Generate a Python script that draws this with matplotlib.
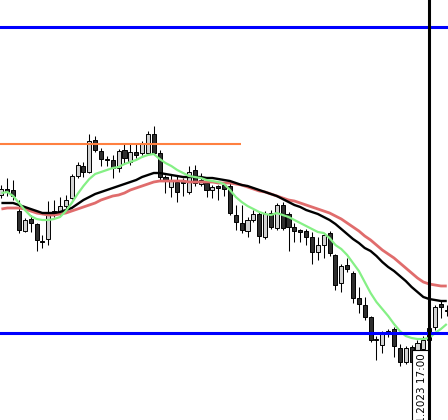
import numpy as np
import matplotlib
matplotlib.use("Agg")
import matplotlib.pyplot as plt
from matplotlib.patches import Rectangle

# ---- price data (hourly candles) ----
opens = [1.0805, 1.0811, 1.0810, 1.0789, 1.0769, 1.0781, 1.0776, 1.0759, 1.0761, 1.0786,
         1.0786, 1.0794, 1.0802, 1.0824, 1.0834, 1.0828, 1.0860, 1.0849, 1.0841, 1.0840,
         1.0832, 1.0850, 1.0838, 1.0848, 1.0847, 1.0847, 1.0866, 1.0847, 1.0823, 1.0813,
         1.0818, 1.0819, 1.0808, 1.0830, 1.0816, 1.0817, 1.0810, 1.0814, 1.0815, 1.0814,
         1.0785, 1.0777, 1.0769, 1.0780, 1.0786, 1.0763, 1.0787, 1.0772, 1.0795, 1.0786,
         1.0773, 1.0770, 1.0769, 1.0763, 1.0748, 1.0755, 1.0767, 1.0745, 1.0717, 1.0735,
         1.0727, 1.0702, 1.0695, 1.0683, 1.0661, 1.0655, 1.0669, 1.0671, 1.0652, 1.0638,
         1.0653, 1.0650, 1.0651, 1.0660, 1.0673, 1.0696, 1.0690]
highs = [1.0815, 1.0822, 1.0820, 1.0800, 1.0782, 1.0785, 1.0777, 1.0765, 1.0799, 1.0800,
         1.0803, 1.0805, 1.0826, 1.0838, 1.0838, 1.0866, 1.0864, 1.0852, 1.0844, 1.0845,
         1.0851, 1.0857, 1.0857, 1.0857, 1.0859, 1.0869, 1.0874, 1.0850, 1.0825, 1.0825,
         1.0825, 1.0822, 1.0834, 1.0835, 1.0827, 1.0820, 1.0815, 1.0815, 1.0818, 1.0818,
         1.0795, 1.0795, 1.0783, 1.0790, 1.0788, 1.0789, 1.0790, 1.0797, 1.0798, 1.0788,
         1.0777, 1.0771, 1.0771, 1.0768, 1.0763, 1.0767, 1.0769, 1.0746, 1.0736, 1.0742,
         1.0729, 1.0713, 1.0703, 1.0684, 1.0664, 1.0669, 1.0671, 1.0673, 1.0656, 1.0654,
         1.0655, 1.0660, 1.0664, 1.0675, 1.0695, 1.0700, 1.0695]
lows = [1.0802, 1.0804, 1.0800, 1.0767, 1.0768, 1.0768, 1.0749, 1.0752, 1.0755, 1.0783,
        1.0784, 1.0789, 1.0801, 1.0822, 1.0823, 1.0827, 1.0848, 1.0834, 1.0834, 1.0822,
        1.0828, 1.0837, 1.0835, 1.0842, 1.0845, 1.0845, 1.0845, 1.0820, 1.0807, 1.0803,
        1.0798, 1.0804, 1.0806, 1.0814, 1.0814, 1.0803, 1.0802, 1.0800, 1.0804, 1.0785,
        1.0770, 1.0767, 1.0763, 1.0778, 1.0757, 1.0761, 1.0771, 1.0770, 1.0770, 1.0749,
        1.0758, 1.0758, 1.0755, 1.0736, 1.0740, 1.0742, 1.0744, 1.0710, 1.0708, 1.0728,
        1.0697, 1.0687, 1.0680, 1.0658, 1.0640, 1.0647, 1.0663, 1.0643, 1.0634, 1.0636,
        1.0634, 1.0649, 1.0649, 1.0659, 1.0670, 1.0682, 1.0684]
closes = [1.0811, 1.0808, 1.0804, 1.0770, 1.0780, 1.0777, 1.0760, 1.0758, 1.0787, 1.0789,
          1.0794, 1.0800, 1.0824, 1.0835, 1.0828, 1.0859, 1.0850, 1.0841, 1.0840, 1.0832,
          1.0849, 1.0842, 1.0848, 1.0845, 1.0857, 1.0866, 1.0847, 1.0823, 1.0820, 1.0820,
          1.0808, 1.0817, 1.0828, 1.0817, 1.0820, 1.0810, 1.0813, 1.0812, 1.0811, 1.0787,
          1.0778, 1.0770, 1.0780, 1.0786, 1.0764, 1.0786, 1.0773, 1.0795, 1.0772, 1.0773,
          1.0769, 1.0768, 1.0763, 1.0748, 1.0755, 1.0765, 1.0747, 1.0715, 1.0734, 1.0731,
          1.0702, 1.0696, 1.0683, 1.0660, 1.0660, 1.0666, 1.0667, 1.0654, 1.0638, 1.0652,
          1.0638, 1.0657, 1.0660, 1.0672, 1.0693, 1.0693, 1.0689]

# ---- moving averages ----
ma_fast = [1.0807, 1.0808, 1.0804, 1.0797, 1.0790, 1.0784, 1.0781, 1.0780, 1.0780, 1.0781,
           1.0783, 1.0789, 1.0797, 1.0806, 1.0814, 1.0821, 1.0826, 1.0828, 1.0830, 1.0832,
           1.0833, 1.0836, 1.0838, 1.0840, 1.0843, 1.0845, 1.0846, 1.0841, 1.0837, 1.0834,
           1.0830, 1.0827, 1.0824, 1.0823, 1.0822, 1.0820, 1.0819, 1.0818, 1.0816, 1.0810,
           1.0803, 1.0798, 1.0794, 1.0791, 1.0788, 1.0786, 1.0785, 1.0787, 1.0785, 1.0783,
           1.0780, 1.0777, 1.0774, 1.0771, 1.0768, 1.0767, 1.0762, 1.0755, 1.0751, 1.0745,
           1.0737, 1.0729, 1.0718, 1.0707, 1.0698, 1.0691, 1.0684, 1.0676, 1.0669, 1.0664,
           1.0662, 1.0661, 1.0661, 1.0662, 1.0667, 1.0671, 1.0676]
ma_mid = [1.0797, 1.0797, 1.0797, 1.0795, 1.0793, 1.0791, 1.0789, 1.0787, 1.0787, 1.0787,
          1.0788, 1.0790, 1.0792, 1.0796, 1.0800, 1.0803, 1.0806, 1.0808, 1.0810, 1.0812,
          1.0814, 1.0816, 1.0818, 1.0820, 1.0823, 1.0825, 1.0827, 1.0827, 1.0826, 1.0825,
          1.0824, 1.0823, 1.0823, 1.0823, 1.0823, 1.0822, 1.0822, 1.0821, 1.0820, 1.0819,
          1.0817, 1.0815, 1.0814, 1.0812, 1.0810, 1.0808, 1.0806, 1.0804, 1.0801, 1.0798,
          1.0795, 1.0793, 1.0790, 1.0788, 1.0786, 1.0783, 1.0780, 1.0776, 1.0771, 1.0766,
          1.0761, 1.0757, 1.0752, 1.0749, 1.0744, 1.0738, 1.0733, 1.0729, 1.0724, 1.0719,
          1.0713, 1.0708, 1.0703, 1.0701, 1.0700, 1.0699, 1.0699]
ma_slow = [1.0791, 1.0792, 1.0792, 1.0792, 1.0791, 1.0789, 1.0787, 1.0786, 1.0785, 1.0785,
           1.0786, 1.0787, 1.0789, 1.0791, 1.0793, 1.0795, 1.0797, 1.0800, 1.0802, 1.0804,
           1.0805, 1.0807, 1.0810, 1.0812, 1.0814, 1.0816, 1.0818, 1.0819, 1.0819, 1.0819,
           1.0819, 1.0819, 1.0818, 1.0818, 1.0818, 1.0818, 1.0818, 1.0817, 1.0817, 1.0817,
           1.0816, 1.0815, 1.0813, 1.0811, 1.0809, 1.0808, 1.0806, 1.0804, 1.0802, 1.0800,
           1.0799, 1.0797, 1.0795, 1.0793, 1.0791, 1.0789, 1.0787, 1.0784, 1.0781, 1.0777,
           1.0773, 1.0769, 1.0764, 1.0760, 1.0755, 1.0750, 1.0746, 1.0742, 1.0737, 1.0732,
           1.0727, 1.0722, 1.0718, 1.0716, 1.0715, 1.0714, 1.0714]

# ---- levels and cursor ----
upper_level = 1.0973
lower_level = 1.0667
resistance_level = 1.0856
resistance_end = 40.9          # bar index where the resistance segment stops
cursor_index = 73
cursor_label = "14.11.2023 17:00"

n = len(closes)
x = np.arange(n)
o = np.array(opens); h = np.array(highs); l = np.array(lows); c = np.array(closes)
up = c >= o

fig = plt.figure(figsize=(4.48, 4.20), dpi=100)
ax = fig.add_axes([0, 0, 1, 1])
ax.set_axis_off()
ax.set_xlim(-0.24, 76.21)
ax.set_ylim(1.0580, 1.1000)

# wicks
ax.vlines(x, l, h, color="black", linewidth=0.75, zorder=2)

# bodies
body_w = 0.7
bottoms = np.minimum(o, c)
heights = np.abs(c - o)
ax.bar(x[up], heights[up], width=body_w, bottom=bottoms[up],
       color="#d3d3d3", edgecolor="black", linewidth=0.7, zorder=3)
ax.bar(x[~up], heights[~up], width=body_w, bottom=bottoms[~up],
       color="#2e2e2e", edgecolor="black", linewidth=0.7, zorder=3)

# moving averages
ax.plot(x, ma_slow, color="#e06c6c", linewidth=2.0, zorder=4, solid_capstyle="butt")
ax.plot(x, ma_mid, color="black", linewidth=1.7, zorder=4.2, solid_capstyle="butt")
ax.plot(x, ma_fast, color="#85f085", linewidth=1.6, zorder=4.4, solid_capstyle="butt")

# levels
ax.axhline(upper_level, color="#0000ff", linewidth=2.2, zorder=5)
ax.axhline(lower_level, color="#0000ff", linewidth=2.2, zorder=5)
ax.hlines(resistance_level, -1, resistance_end, color="#ff8040", linewidth=1.5, zorder=5)

# cursor line with time label
ax.axvline(cursor_index, color="black", linewidth=2.2, zorder=7)
box_top = 1.0650
ax.add_patch(Rectangle((cursor_index - 2.9, 1.0500), 2.9, box_top - 1.0500,
                       facecolor="white", edgecolor="black", linewidth=0.8, zorder=6))
ax.text(cursor_index - 1.25, box_top - 0.0003, cursor_label, rotation=90,
        ha="center", va="top", fontsize=7.5, color="black", zorder=6.5)

fig.savefig("out.png", dpi=100)
